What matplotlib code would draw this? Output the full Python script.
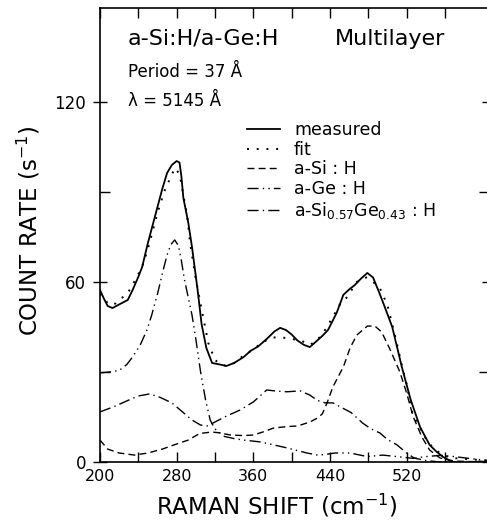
import numpy as np
import matplotlib
matplotlib.use('Agg')
from matplotlib import pyplot as plt

plt.rcParams['font.family'] = ['DejaVu Sans']
plt.rcParams['mathtext.fontset'] = 'dejavusans'

# measured spectrum
meas_x = [200, 204, 208, 213, 220, 229, 234, 240, 244, 250, 260, 265, 270, 275, 280, 283, 285, 287,
          292, 296, 302, 306, 311, 317, 325, 332, 340, 350, 357, 365, 374, 382, 388, 394, 400, 406,
          413, 419, 425, 432, 438, 447, 454, 460, 466, 472, 479, 485, 492, 498, 505, 515, 524, 534,
          544, 551, 558, 566, 572, 578, 584, 590, 596, 604]
meas_y = [57.3, 54.5, 52, 51.3, 52.5, 54, 57.3, 61.7, 65, 73, 85, 91, 96.3, 99, 100.3, 99.8, 95, 88,
          80, 71.7, 57, 46, 38, 33, 32.5, 32, 33, 35, 37, 38.5, 41, 43.5, 44.7, 44, 42.5, 40.5,
          39, 38.3, 40, 42, 44, 49.7, 55.7, 57.5, 59, 61, 63, 61.5, 56, 51, 45, 31.7, 21, 11.7,
          5.7, 3.5, 1.7, 0.3, -1.2, -1.8, -1, -0.3, 0.2, 0]

# fit
fit_x = [200, 205, 210, 216, 223, 229, 238, 245, 250, 260, 268, 274, 278, 283, 287, 291, 294, 300,
         306, 313, 320, 326, 332, 340, 350, 360, 370, 380, 390, 400, 410, 418, 425, 433, 443, 450,
         458, 468, 478, 485, 492, 500, 508, 516, 520, 526, 531, 542, 550, 560, 570, 580, 590, 604]
fit_y = [56, 54, 52.3, 52.8, 54.7, 56.3, 61.3, 66, 71, 83, 91, 95, 98, 96, 89, 82, 73, 61,
         51, 39.7, 34, 32.5, 32, 33, 35.5, 37.5, 40, 41.5, 41.5, 41, 40.5, 39, 40, 43, 48.3, 52.3,
         55, 60, 61.5, 60, 58, 52.3, 42, 31, 26, 16.3, 13, 6.7, 4, 2, 1.3, 1, 0.8, 0.5]

# a-Si:H component
si_x = [200, 208, 220, 236, 250, 265, 280, 292, 304, 317, 325, 336, 350, 360, 370, 381, 395, 406,
        419, 426, 432, 437, 443, 454, 461, 468, 479, 487, 494, 503, 513, 520, 527, 536, 544, 555,
        570, 604]
si_y = [7.3, 4.3, 3, 2.3, 3, 4.3, 6, 7.3, 9.5, 10, 9.7, 9, 8.8, 9, 10, 11.3, 11.8, 12,
        13.3, 14.5, 16, 19.7, 25, 31.7, 38, 42.3, 45.3, 45.3, 43.3, 37.3, 30, 23, 15, 8.3, 4, 1.3,
        0.3, 0]

# a-Ge:H component
ge_x = [200, 210, 220, 228, 234, 242, 249, 254, 260, 266, 270, 274, 278, 282, 285, 288, 292, 296,
        300, 305, 310, 315, 320, 330, 340, 350, 367, 380, 395, 416, 427, 435, 445, 461, 479, 495,
        513, 527, 540, 555, 570, 585, 604]
ge_y = [29.7, 30, 30.5, 32.5, 35, 39, 44, 49, 56, 64, 69, 72.5, 74, 72, 67, 61, 55, 49,
        41, 30, 21, 14, 11, 8.5, 7.8, 7.3, 6.7, 5.8, 4.7, 3, 2.3, 2.5, 3, 3, 1.8, 2.3,
        1.7, 1.2, 1.8, 2.2, 1.8, 1.2, 0.5]

# a-Si0.57Ge0.43:H component
sige_x = [200, 215, 229, 240, 252, 263, 275, 285, 296, 305, 313, 318, 330, 346, 360, 374, 385, 395,
          409, 419, 427, 435, 443, 453, 462, 474, 483, 492, 500, 510, 520, 528, 540, 555, 604]
sige_y = [16.7, 18.5, 20.5, 22, 22.7, 21.5, 19.7, 17, 14, 12.3, 12, 13, 15, 17.3, 20, 24, 23.6, 23.4,
          23.7, 22.3, 20.5, 19.7, 19.7, 18, 16.5, 13, 11, 9.7, 7.5, 5.7, 3, 1.3, 0.5, 0, 0]

fig = plt.figure()
fig.set_dpi(100)
fig.set_size_inches(4.87, 5.25)
ax = fig.add_axes([100/487, 63/525, 389/487, 454/525])

ax.plot(meas_x, meas_y, color='black', lw=1.3, label='measured')
ax.plot(fit_x, fit_y, color='black', lw=1.4, linestyle=(0, (1, 4)), label='fit')
ax.plot(si_x, si_y, color='black', lw=1.0, linestyle=(0, (5, 3)), label='a-Si : H')
ax.plot(ge_x, ge_y, color='black', lw=1.0, linestyle=(0, (8, 3, 1, 3, 1, 3)), label='a-Ge : H')
ax.plot(sige_x, sige_y, color='black', lw=1.0, linestyle=(0, (8, 3, 1, 3)),
        label='a-Si$_{0.57}$Ge$_{0.43}$ : H')

ax.set_xlim(200, 606)
ax.set_ylim(0, 151.3)
ax.set_xticks([200, 280, 360, 440, 520])
ax.set_xticks([240, 320, 400, 480, 560], minor=True)
ax.set_yticks([0, 60, 120])
ax.set_yticks([30, 90], minor=True)
ax.tick_params(axis='x', which='both', direction='in', top=True, length=7, width=1, labelsize=11.5, pad=5)
ax.tick_params(axis='y', which='major', direction='inout', right=True, length=10, width=1, labelsize=12, pad=5)
ax.tick_params(axis='y', which='minor', direction='in', right=True, length=7, width=1)
for s in ax.spines.values():
    s.set_linewidth(1.2)

ax.text(229, 141, 'a-Si:H/a-Ge:H', fontsize=16, va='center')
ax.text(445, 141, 'Multilayer', fontsize=16, va='center')
ax.text(229, 130, 'Period = 37 Å', fontsize=12, va='center')
ax.text(229, 120.3, 'λ = 5145 Å', fontsize=12, va='center')

leg = ax.legend(loc='upper left', bbox_to_anchor=(247/487, 1-121/525), bbox_transform=fig.transFigure,
                frameon=False, fontsize=12.5, handlelength=1.9, handletextpad=0.8,
                labelspacing=0.1, borderpad=0, borderaxespad=0)

fig.text(277/487, 1-506/525, 'RAMAN SHIFT (cm$^{-1}$)', fontsize=16.5, ha='center', va='center')
fig.text(29/487, 1-231/525, 'COUNT RATE (s$^{-1}$)', fontsize=16.5, ha='center', va='center', rotation=90)

fig.savefig('out.png', dpi=100)
